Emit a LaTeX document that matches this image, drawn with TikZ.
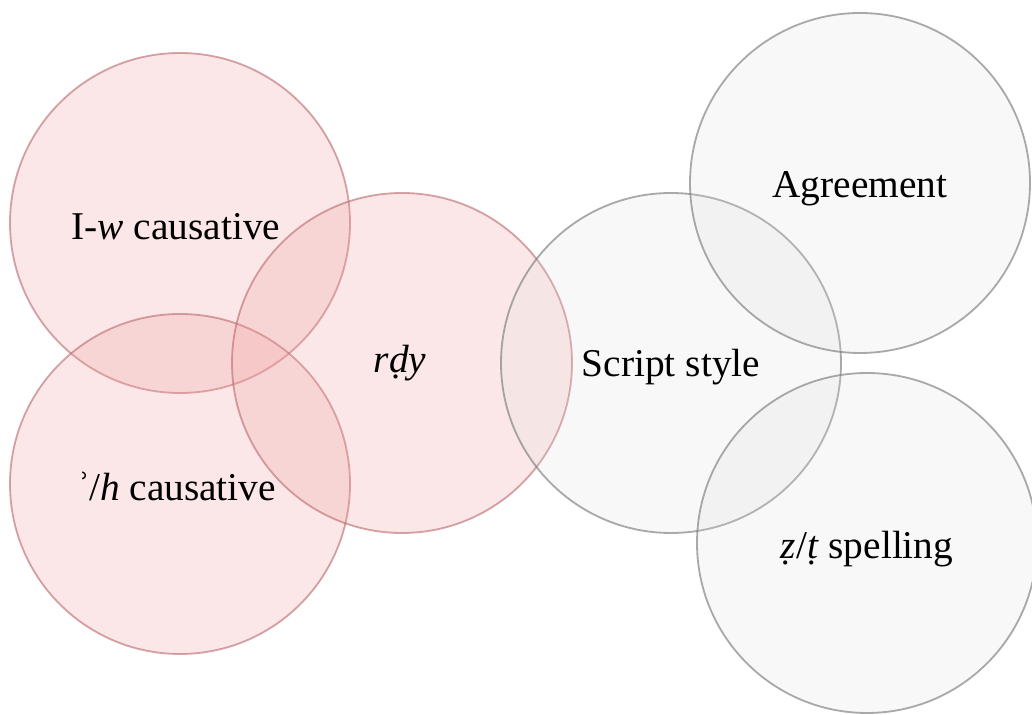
\documentclass[tikz,border=0pt]{standalone}
\usepackage{fontspec}
\setmainfont{Liberation Serif}
\definecolor{rosefill}{RGB}{240,160,160}
\definecolor{roseline}{RGB}{185,105,110}
\definecolor{greyfill}{RGB}{220,220,220}
\definecolor{greyline}{RGB}{125,125,125}

\tikzset{
  roseset/.style={circle, minimum size=8.5cm, fill=rosefill, fill opacity=0.25,
    draw=roseline, draw opacity=0.6, line width=1.3pt},
  greyset/.style={circle, minimum size=8.5cm, fill=greyfill, fill opacity=0.2,
    draw=greyline, draw opacity=0.65, line width=1.3pt},
  setlabel/.style={font=\fontsize{28}{34}\selectfont, text=black}
}

\begin{document}
\begin{tikzpicture}
  \useasboundingbox (0,0) rectangle (25.8,17.875);

  % the sets
  \node [roseset] (iw) at (4.5,12.3) {};
  \node [roseset] (ah) at (4.5,5.775) {};
  \node [roseset] (rdy) at (10.05,8.8) {};
  \node [greyset] (script) at (16.775,8.8) {};
  \node [greyset] (agree) at (21.5,13.3) {};
  \node [greyset] (zt) at (21.675,4.3) {};

  % the labels
  \node [setlabel] (iwtext) at ([xshift=-0.1cm,yshift=-0.1cm]iw.center) {I-\textit{w} causative};
  \node [setlabel] (ahtext) at ([xshift=-0.1cm,yshift=-0.05cm]ah.center) {\textit{ʾ}/\textit{h} causative};
  \node [setlabel] (rdytext) at ([xshift=-0.05cm]rdy.center) {\textit{rḍy}};
  \node [setlabel] (scripttext) at ([yshift=-0.1cm]script.center) {Script style};
  \node [setlabel] (agreetext) at ([yshift=-0.15cm]agree.center) {Agreement};
  \node [setlabel] (zttext) at ([yshift=-0.15cm]zt.center) {\textit{ẓ}/\textit{ṭ} spelling};
\end{tikzpicture}
\end{document}
